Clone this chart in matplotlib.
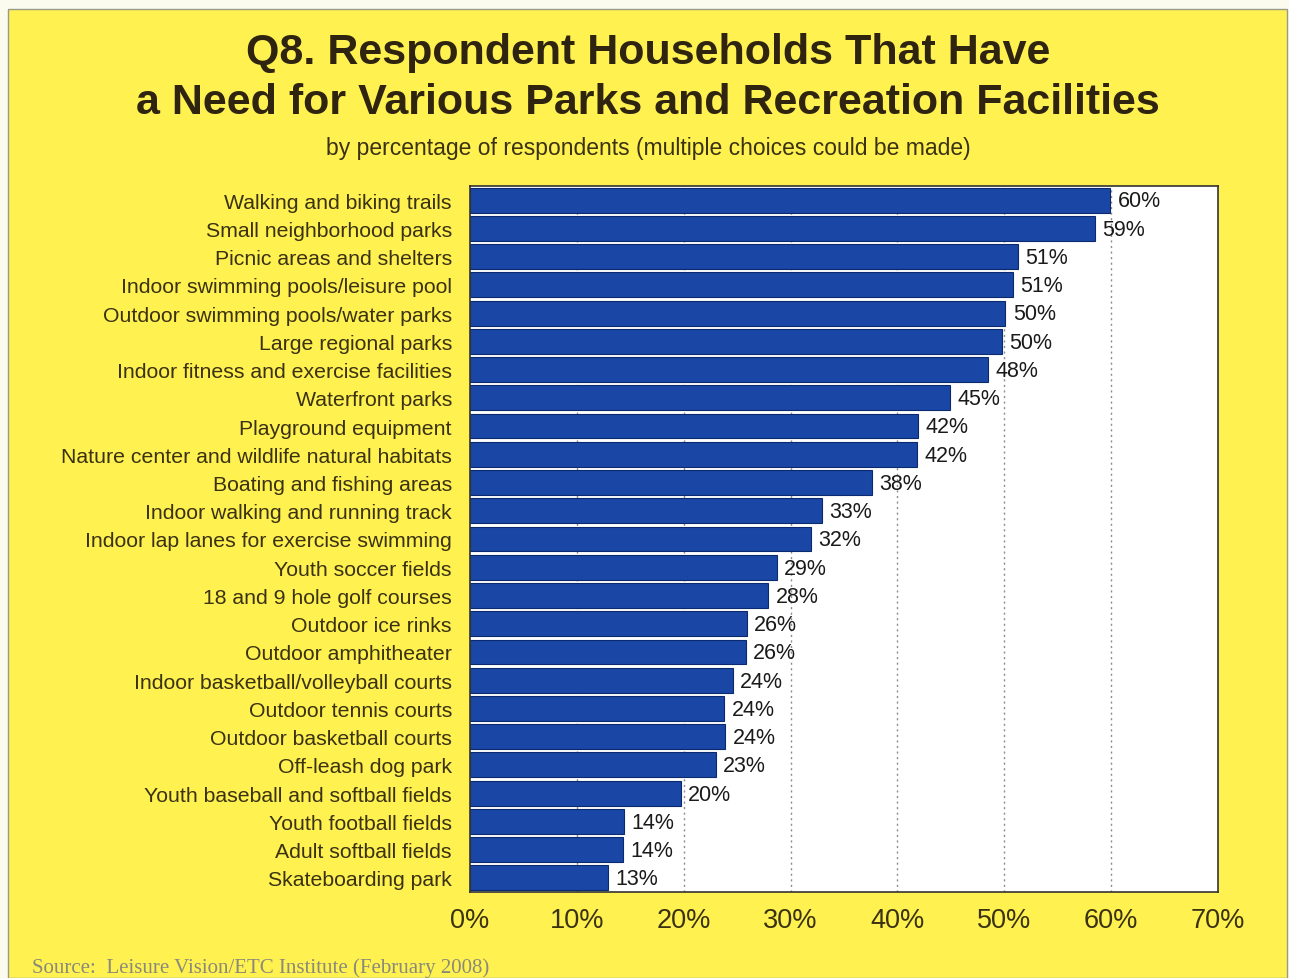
import matplotlib
matplotlib.use("Agg")
import matplotlib.pyplot as plt
from matplotlib.patches import Rectangle

plt.rcParams['font.family'] = ['Liberation Sans', 'DejaVu Sans']

categories = [
    "Walking and biking trails",
    "Small neighborhood parks",
    "Picnic areas and shelters",
    "Indoor swimming pools/leisure pool",
    "Outdoor swimming pools/water parks",
    "Large regional parks",
    "Indoor fitness and exercise facilities",
    "Waterfront parks",
    "Playground equipment",
    "Nature center and wildlife natural habitats",
    "Boating and fishing areas",
    "Indoor walking and running track",
    "Indoor lap lanes for exercise swimming",
    "Youth soccer fields",
    "18 and 9 hole golf courses",
    "Outdoor ice rinks",
    "Outdoor amphitheater",
    "Indoor basketball/volleyball courts",
    "Outdoor tennis courts",
    "Outdoor basketball courts",
    "Off-leash dog park",
    "Youth baseball and softball fields",
    "Youth football fields",
    "Adult softball fields",
    "Skateboarding park",
]
values = [59.9, 58.5, 51.3, 50.8, 50.1, 49.8, 48.5, 44.9, 41.9, 41.8, 37.6,
          32.9, 31.9, 28.7, 27.9, 25.9, 25.8, 24.6, 23.8, 23.9, 23.0, 19.7,
          14.4, 14.3, 12.9]
value_labels = ["60%", "59%", "51%", "51%", "50%", "50%", "48%", "45%", "42%",
                "42%", "38%", "33%", "32%", "29%", "28%", "26%", "26%", "24%",
                "24%", "24%", "23%", "20%", "14%", "14%", "13%"]
xticks = [0, 10, 20, 30, 40, 50, 60, 70]
xtick_labels = ["0%", "10%", "20%", "30%", "40%", "50%", "60%", "70%"]

title = "Q8. Respondent Households That Have\na Need for Various Parks and Recreation Facilities"
subtitle = "by percentage of respondents (multiple choices could be made)"
footer = "Source:  Leisure Vision/ETC Institute (February 2008)"

W, H = 1289, 979
fig = plt.figure(figsize=(W / 100, H / 100), dpi=100)
fig.patch.set_facecolor("#FBFBF0")

# yellow panel
fig.patches.append(Rectangle((8 / W, 0), (W - 10) / W, 1 - 10 / H,
                             transform=fig.transFigure, facecolor="#FFF150",
                             edgecolor="#9A9A8A", linewidth=1.0, zorder=-5))

ax = fig.add_axes([470 / W, 1 - 893 / H, (1218 - 470) / W, (893 - 187) / H])
ax.set_zorder(2)
ax.set_facecolor("white")

y = list(range(len(categories)))
ax.barh(y, values, height=0.88, color="#1A47A6", edgecolor="#0B2A6E",
        linewidth=0.8, zorder=2)

for yi, v, lab in zip(y, values, value_labels):
    ax.text(v + 0.7, yi + 0.03, lab, va="center", ha="left", fontsize=15.5,
            color="#1a1a1a", zorder=3)

ax.set_xlim(0, 70)
ax.set_ylim(len(categories) - 0.5, -0.5)
ax.set_xticks(xticks)
ax.set_xticklabels(xtick_labels, fontsize=19.5, color="#3a3212")
ax.set_yticks(y)
ax.set_yticklabels(categories, fontsize=15.3, color="#3a3212")
ax.tick_params(axis="both", length=0)
ax.tick_params(axis="x", pad=11)
ax.tick_params(axis="y", pad=13)

for gx in xticks[1:-1]:
    ax.axvline(gx, color="#8c8c8c", linestyle=(0, (1.5, 2.5)), linewidth=1.0, zorder=1)

for s in ax.spines.values():
    s.set_color("#333333")
    s.set_linewidth(1.2)

fig.text(648 / W, 1 - 78 / H, title, ha="center", va="center", fontsize=31,
         fontweight="bold", color="#2e2410", linespacing=1.3)
fig.text(648 / W, 1 - 148 / H, subtitle, ha="center", va="center",
         fontsize=16.5, color="#3a3212")
fig.text(32 / W, 1 - 968 / H, footer, ha="left", va="center", fontsize=15,
         color="#8a8a7a", family=["Liberation Serif", "DejaVu Serif"])

fig.savefig("out.png", dpi=100, facecolor=fig.get_facecolor())
